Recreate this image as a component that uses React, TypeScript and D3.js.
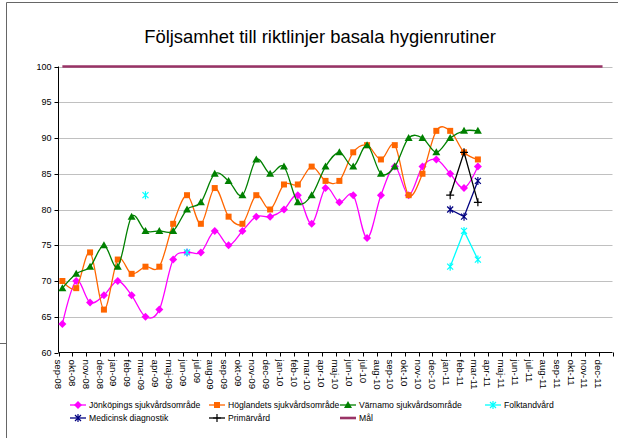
import React from "react";
import * as d3 from "d3";

const months = ["sep-08","okt-08","nov-08","dec-08","jan-09","feb-09","mar-09","apr-09","maj-09","jun-09","jul-09","aug-09","sep-09","okt-09","nov-09","dec-09","jan-10","feb-10","mar-10","apr-10","maj-10","jun-10","jul-10","aug-10","sep-10","okt-10","nov-10","dec-10","jan-11","feb-11","mar-11","apr-11","maj-11","jun-11","jul-11","aug-11","sep-11","okt-11","nov-11","dec-11"];
const yTicks = [60, 65, 70, 75, 80, 85, 90, 95, 100];

// series starting at sep-08
const jonkoping = [64,70,67,68,70,68,65,66,73,74,74,77,75,77,79,79,80,82,78,83,81,82,76,82,86,82,86,87,85,83,86];
const hoglandet = [70,69,74,66,73,71,72,72,78,82,78,83,79,78,82,80,83.5,83.5,86,84,84,88,89,87,89,82,85,91,91,88,87];
const varnamo = [69,71,72,75,72,79,77,77,77,80,81,85,84,82,87,85,86,81,82,86,88,86,89,85,86,90,90,88,90,91,91];
// sparse series: [month, value]
const folktandvard: [string, number][] = [["mar-09",82],["jun-09",74],["jan-11",72],["feb-11",77],["mar-11",73]];
const medicinsk: [string, number][] = [["jan-11",80],["feb-11",79],["mar-11",84]];
const primarvard: [string, number][] = [["jan-11",82],["feb-11",88],["mar-11",81]];
const mal = [100,100,100,100,100,100,100,100,100,100,100,100,100,100,100,100,100,100,100,100,100,100,100,100,100,100,100,100,100,100,100,100,100,100,100,100,100,100,100,100];

const FONT = "'Liberation Sans', Arial, sans-serif";
const X0 = 58.5, X1 = 612.5, YT = 66.5, YB = 352.5;

const xTick = d3.scaleLinear().domain([0, months.length]).range([X0, X1]);
const px = (i: number) => xTick(i + 0.28);
const y = d3.scaleLinear().domain([60, 100]).range([YB, YT]);

type Pt = { i: number; v: number | null };
const fromStart = (vals: number[]): Pt[] => vals.map((v, i) => ({ i, v }));
const fromPairs = (pairs: [string, number][]): Pt[] => {
  const m = new Map(pairs);
  const first = months.indexOf(pairs[0][0]);
  const last = months.indexOf(pairs[pairs.length - 1][0]);
  const out: Pt[] = [];
  for (let i = first; i <= last; i++) out.push({ i, v: m.has(months[i]) ? (m.get(months[i]) as number) : null });
  return out;
};

const smooth = d3.line<Pt>().defined(d => d.v != null).x(d => px(d.i)).y(d => y(d.v as number)).curve(d3.curveCardinal.tension(0));
const straight = d3.line<Pt>().defined(d => d.v != null).x(d => px(d.i)).y(d => y(d.v as number));

type Mk = "diamond" | "square" | "triangle" | "star" | "plus" | "none";
function Marker({ x, yy, kind, color }: { x: number; yy: number; kind: Mk; color: string }) {
  if (kind === "diamond") return <path d={`M${x},${yy - 4}L${x + 4},${yy}L${x},${yy + 4}L${x - 4},${yy}Z`} fill={color} />;
  if (kind === "square") return <rect x={x - 3} y={yy - 3} width={6} height={6} fill={color} />;
  if (kind === "triangle") return <path d={`M${x},${yy - 4}L${x + 4},${yy + 3}L${x - 4},${yy + 3}Z`} fill={color} />;
  if (kind === "star") return <path d={`M${x - 3},${yy - 3}L${x + 3},${yy + 3}M${x - 3},${yy + 3}L${x + 3},${yy - 3}M${x},${yy - 4}L${x},${yy + 4}`} stroke={color} strokeWidth={1.2} fill="none" />;
  if (kind === "plus") return <path d={`M${x - 4},${yy}L${x + 4},${yy}M${x},${yy - 4}L${x},${yy + 4}`} stroke={color} strokeWidth={1.2} fill="none" />;
  return null;
}

const series = [
  { name: "Jönköpings sjukvårdsområde", color: "#FF00FF", mk: "diamond" as Mk, pts: fromStart(jonkoping), line: smooth, w: 1.3 },
  { name: "Höglandets sjukvårdsområde", color: "#FF6600", mk: "square" as Mk, pts: fromStart(hoglandet), line: smooth, w: 1.3 },
  { name: "Värnamo sjukvårdsområde", color: "#008000", mk: "triangle" as Mk, pts: fromStart(varnamo), line: smooth, w: 1.3 },
  { name: "Folktandvård", color: "#00FFFF", mk: "star" as Mk, pts: fromPairs(folktandvard), line: straight, w: 1.3 },
  { name: "Medicinsk diagnostik", color: "#000080", mk: "star" as Mk, pts: fromPairs(medicinsk), line: straight, w: 1.3 },
  { name: "Primärvård", color: "#000000", mk: "plus" as Mk, pts: fromPairs(primarvard), line: straight, w: 1.3 },
  { name: "Mål", color: "#993366", mk: "none" as Mk, pts: fromStart(mal), line: straight, w: 2.6 },
];

const legendPos = [
  { x: 70, y: 405 }, { x: 209, y: 405 }, { x: 340, y: 405 }, { x: 485, y: 405 },
  { x: 70, y: 418 }, { x: 209, y: 418 }, { x: 340, y: 418 },
];

export default function App() {
  const drawOrder = [6, 0, 1, 2, 3, 4, 5];
  return (
    <svg width={618} height={438} style={{ position: "absolute", left: 0, top: 0, background: "#fff" }} fontFamily={FONT}>
      <rect x={0} y={0} width={618} height={438} fill="#fff" />
      {/* frame */}
      <line x1={6.5} y1={2.5} x2={618} y2={2.5} stroke="#666" strokeWidth={1} />
      <line x1={6.5} y1={2.5} x2={6.5} y2={438} stroke="#666" strokeWidth={1} />
      <line x1={0} y1={343.5} x2={6.5} y2={343.5} stroke="#666" strokeWidth={1} />

      <text x={320} y={43} fontSize={18.4} textAnchor="middle" fill="#000">Följsamhet till riktlinjer basala hygienrutiner</text>

      {/* grid */}
      {yTicks.filter(t => t > 60).map(t => (
        <line key={t} x1={X0} x2={X1} y1={Math.round(y(t)) + 0.5} y2={Math.round(y(t)) + 0.5} stroke="#C0C0C0" strokeWidth={1} />
      ))}
      {/* y axis */}
      <line x1={X0} x2={X0} y1={YT} y2={YB} stroke="#000" strokeWidth={1} />
      {yTicks.map(t => (
        <g key={t}>
          <line x1={X0 - 4} x2={X0} y1={Math.round(y(t)) + 0.5} y2={Math.round(y(t)) + 0.5} stroke="#000" />
          <text x={X0 - 7} y={y(t)} dy="0.35em" fontSize={9} textAnchor="end" fill="#000">{t}</text>
        </g>
      ))}
      {/* x axis */}
      <line x1={X0} x2={X1} y1={YB} y2={YB} stroke="#000" strokeWidth={1} />
      {d3.range(months.length + 1).map(i => (
        <line key={i} x1={Math.round(xTick(i)) + 0.5} x2={Math.round(xTick(i)) + 0.5} y1={YB} y2={YB + 4} stroke="#000" />
      ))}
      {months.map((m, i) => (
        <text key={m} transform={`translate(${xTick(i)},${YB + 7}) rotate(90)`} fontSize={9.7} dy="0.35em" textAnchor="start" fill="#000">{m}</text>
      ))}

      {/* series */}
      {drawOrder.map(si => {
        const s = series[si];
        return (
          <g key={s.name}>
            <path d={s.line(s.pts) || ""} fill="none" stroke={s.color} strokeWidth={s.w} />
            {s.pts.filter(p => p.v != null).map(p => (
              <Marker key={p.i} x={px(p.i)} yy={y(p.v as number)} kind={s.mk} color={s.color} />
            ))}
          </g>
        );
      })}

      {/* legend */}
      {series.map((s, k) => {
        const p = legendPos[k];
        return (
          <g key={s.name}>
            <line x1={p.x} x2={p.x + 16} y1={p.y} y2={p.y} stroke={s.color} strokeWidth={s.mk === "none" ? 2.6 : 1.3} />
            <Marker x={p.x + 8} yy={p.y} kind={s.mk} color={s.color} />
            <text x={p.x + 19} y={p.y} dy="0.35em" fontSize={8.6} fill="#000">{s.name}</text>
          </g>
        );
      })}
    </svg>
  );
}
